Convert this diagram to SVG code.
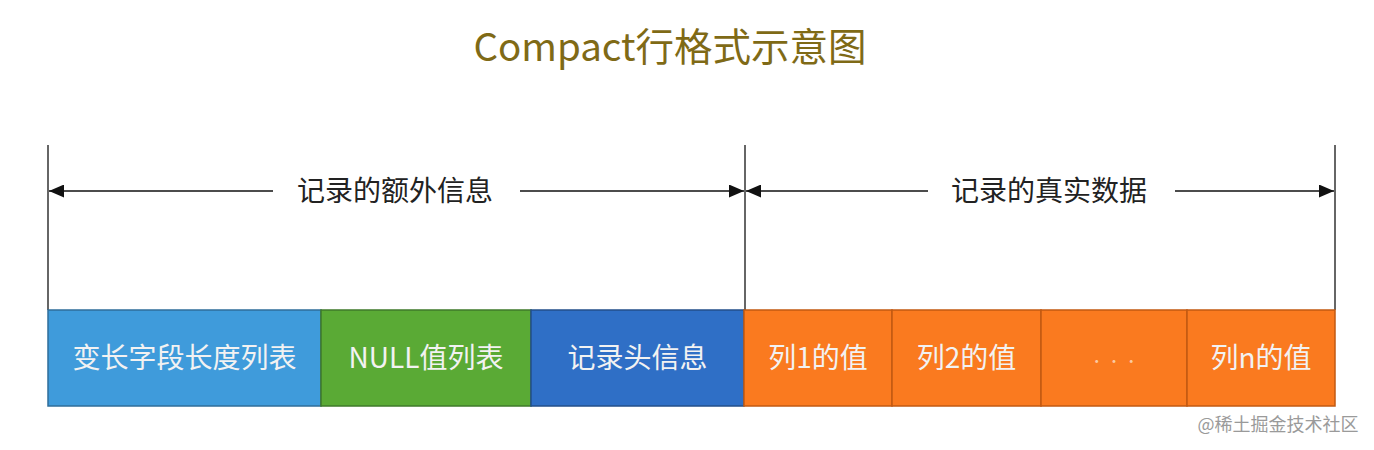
<svg xmlns="http://www.w3.org/2000/svg" width="1374" height="450" viewBox="0 0 1374 450">
<defs>
<marker id="ah" viewBox="0 0 15 13" refX="15" refY="6.5" markerWidth="15" markerHeight="13" markerUnits="userSpaceOnUse" orient="auto">
<path d="M0,0 L15,6.5 L0,13 Z" fill="#111"/>
</marker>
<style>
.t{font-family:"Noto Sans CJK SC","Liberation Sans",sans-serif;text-anchor:middle}
.title{font-size:38.5px;fill:#7f6a16}
.lbl{font-size:28px;fill:#222}
.bx{font-size:28px;fill:#f2f2f2}
.wm{font-size:18px;fill:#9a9a9a}
.v{stroke:#333;stroke-width:1.5;fill:none}
.a{stroke:#111;stroke-width:1.5;fill:none;marker-end:url(#ah)}
.blue{fill:#3f9bdb;stroke:#2f6e9a;stroke-width:1.5}
.green{fill:#5aaa35;stroke:#3f7a2a;stroke-width:1.5}
.dblue{fill:#2f6fc6;stroke:#234f8a;stroke-width:1.5}
.org{fill:#fa7a1f;stroke:#c25a12;stroke-width:1.5}
</style>
</defs>
<rect width="1374" height="450" fill="#fff"/>
<text class="t title" x="670" y="61">Compact行格式示意图</text>
<g id="connectors">
<line class="v" x1="48" y1="145" x2="48" y2="310"/>
<line class="v" x1="745" y1="145" x2="745" y2="310"/>
<line class="v" x1="1335" y1="145" x2="1335" y2="310"/>
<line class="a" x1="273" y1="191" x2="49" y2="191"/>
<line class="a" x1="520" y1="191" x2="744" y2="191"/>
<line class="a" x1="928" y1="191" x2="746" y2="191"/>
<line class="a" x1="1175" y1="191" x2="1334" y2="191"/>
</g>
<g id="label-extra"><text class="t lbl" x="395" y="201">记录的额外信息</text></g>
<g id="label-real"><text class="t lbl" x="1049" y="201">记录的真实数据</text></g>
<g id="node-varlen"><rect class="blue" x="48" y="310" width="273" height="96"/><text class="t bx" x="184.5" y="368">变长字段长度列表</text></g>
<g id="node-null"><rect class="green" x="321" y="310" width="210" height="96"/><text class="t bx" x="426" y="368">NULL值列表</text></g>
<g id="node-header"><rect class="dblue" x="531" y="310" width="213" height="96"/><text class="t bx" x="637.5" y="368">记录头信息</text></g>
<g id="node-col1"><rect class="org" x="744" y="310" width="148" height="96"/><text class="t bx" x="818" y="368">列1的值</text></g>
<g id="node-col2"><rect class="org" x="892" y="310" width="149" height="96"/><text class="t bx" x="966.5" y="368">列2的值</text></g>
<g id="node-dots"><rect class="org" x="1041" y="310" width="146" height="96"/><text class="t bx" x="1114" y="366" style="font-size:14px;fill:#fbc9a0">·   ·   ·</text></g>
<g id="node-coln"><rect class="org" x="1187" y="310" width="148" height="96"/><text class="t bx" x="1261" y="368">列n的值</text></g>
<text class="t wm" x="1278" y="431">@稀土掘金技术社区</text>
</svg>
